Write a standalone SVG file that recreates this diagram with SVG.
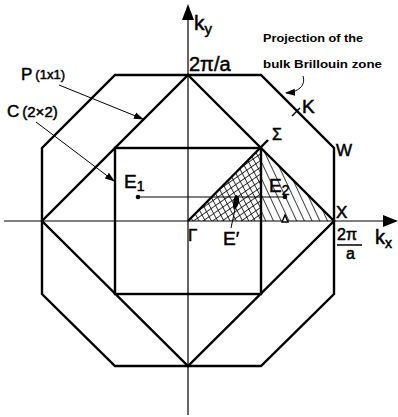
<svg xmlns="http://www.w3.org/2000/svg" width="398" height="417" viewBox="0 0 398 417">
<style>
.thick{fill:none;stroke:#000;stroke-width:2.4;stroke-linejoin:miter}
.axis{fill:none;stroke:#000;stroke-width:1.2}
.thin{fill:none;stroke:#000;stroke-width:1}
.lbl{font-family:"Liberation Sans",Arial,sans-serif;fill:#000;stroke:#000;stroke-width:0.5}
.note{font-family:"Liberation Sans",Arial,sans-serif;font-weight:bold;font-size:10.5px;fill:#000}
</style>
<defs>
<marker id="ah" markerWidth="10" markerHeight="8" refX="9" refY="4" orient="auto" markerUnits="userSpaceOnUse">
<path d="M0,0.5 L10,4 L0,7.5 Z" fill="#000"/>
</marker>
<pattern id="hatchSteep" width="7" height="7" patternUnits="userSpaceOnUse" patternTransform="rotate(-25)">
<line x1="0" y1="0" x2="0" y2="7" stroke="#000" stroke-width="1.5"/>
</pattern>
<pattern id="hatchSteepL" width="5.5" height="5.5" patternUnits="userSpaceOnUse" patternTransform="rotate(-28)">
<line x1="0" y1="0" x2="0" y2="5.5" stroke="#000" stroke-width="1.5"/>
</pattern>
<pattern id="hatchShallow" width="5.5" height="5.5" patternUnits="userSpaceOnUse" patternTransform="rotate(-35)">
<line x1="0" y1="0" x2="5.5" y2="0" stroke="#000" stroke-width="1.5"/>
</pattern>
</defs>
<rect width="398" height="417" fill="#fff"/>

<g id="hatching">
<polygon points="188,221 261,148 261,221" fill="url(#hatchSteepL)"/>
<polygon points="188,221 261,148 261,221" fill="url(#hatchShallow)"/>
<polygon points="261,148 334,221 261,221" fill="url(#hatchSteep)"/>
</g>

<g id="axes">
<line class="axis" x1="4" y1="221" x2="386" y2="221"/>
<polygon points="383,215 398,221 383,227" fill="#000"/>
<line class="axis" x1="188" y1="415" x2="188" y2="17"/>
<polygon points="182,20 188,4 194,20" fill="#000"/>
</g>

<g id="bulk-zone">
<polygon class="thick" points="115,75 261,75 334,148 334,294 261,366 115,366 42,294 42,148"/>
</g>
<g id="p1x1-zone">
<polygon class="thick" points="188,75 334,221 188,366 42,221"/>
</g>
<g id="c2x2-zone">
<rect class="thick" x="115" y="148" width="146" height="146"/>
</g>
<g id="irreducible">
<line class="thick" x1="188" y1="221" x2="268" y2="140"/>
</g>

<g id="connectors">
<line class="thin" x1="59" y1="85" x2="143" y2="119" marker-end="url(#ah)"/>
<line class="thin" x1="36" y1="122" x2="114" y2="181" marker-end="url(#ah)"/>
<path class="thin" d="M303,76 C306,86 298,92 286,93" marker-end="url(#ah)"/>
<line class="thin" x1="138" y1="197" x2="285" y2="197"/>
<circle cx="138" cy="197" r="2.3" fill="#000"/>
<circle cx="285" cy="197" r="2.3" fill="#000"/>
<line class="thin" x1="237" y1="200" x2="231" y2="228"/>
<path d="M236,195 C240,196 240,202 237,207 L234,210 C232,206 233,198 236,195 Z" fill="#000"/>
<line x1="292" y1="116" x2="300" y2="108" stroke="#000" stroke-width="1.5"/>
<polygon points="282,222 285,215 288,222" fill="#fff" stroke="#000" stroke-width="1.4"/>
</g>

<g id="labels">
<text class="lbl" x="194" y="30" font-size="21">k<tspan font-size="15" dy="4">y</tspan></text>
<text class="lbl" x="189" y="71" font-size="20">2π/a</text>
<text class="note" x="263" y="42" textLength="100" lengthAdjust="spacingAndGlyphs">Projection of the</text>
<text class="note" x="263" y="68" textLength="119" lengthAdjust="spacingAndGlyphs">bulk Brillouin zone</text>
<text class="lbl" x="21" y="80" font-size="17">P<tspan font-size="13" dx="3" dy="-1">(1x1)</tspan></text>
<text class="lbl" x="7" y="117" font-size="17">C<tspan font-size="15" dx="3">(2×2)</tspan></text>
<text class="lbl" x="302" y="113" font-size="19">K</text>
<text class="lbl" x="272" y="140" font-size="16">Σ</text>
<text class="lbl" x="336" y="156" font-size="17">W</text>
<text class="lbl" x="124" y="188" font-size="19">E<tspan font-size="14" dy="3">1</tspan></text>
<text class="lbl" x="269" y="192" font-size="19">E<tspan font-size="14" dy="3">2</tspan></text>
<text class="lbl" x="336" y="218" font-size="17">X</text>
<text class="lbl" x="188" y="241" font-size="17">Γ</text>
<text class="lbl" x="223" y="245" font-size="19">E′</text>
<text class="lbl" x="337" y="240" font-size="16">2π</text>
<line x1="337" y1="245" x2="362" y2="245" stroke="#000" stroke-width="1.5"/>
<text class="lbl" x="346" y="259" font-size="16">a</text>
<text class="lbl" x="375" y="244" font-size="20">k<tspan font-size="14" dy="4">x</tspan></text>
</g>
</svg>
